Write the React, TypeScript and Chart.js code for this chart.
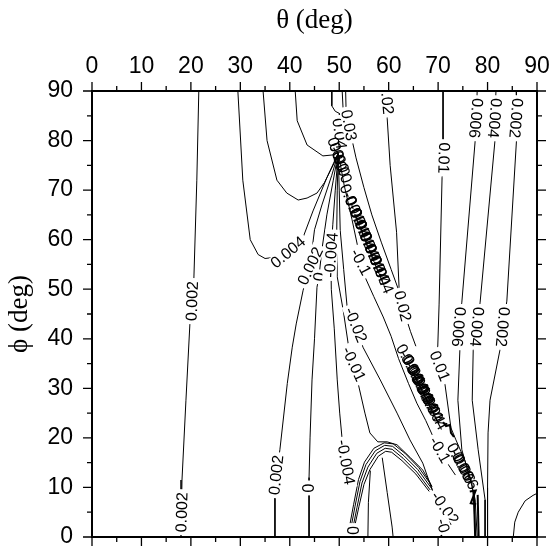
import React, { useEffect, useRef } from "react";
import { Chart, registerables } from "chart.js";

Chart.register(...registerables);

type P = [number, number];
type Lab = [number, number, string, number]; // theta, phi, text, angle (deg)

// axis ticks
const thetaTicks = [0, 10, 20, 30, 40, 50, 60, 70, 80, 90];
const phiTicks = [0, 10, 20, 30, 40, 50, 60, 70, 80, 90];
const minorTicks = [5, 15, 25, 35, 45, 55, 65, 75, 85];

// contour lines [theta, phi]
const lineP0002Left: P[] = [[21.6, 90], [21.2, 72], [20.6, 52], [19.8, 43], [19.0, 27.6], [18.2, 11.5], [18.0, 0]];
const lineP0004: P[] = [[29.5, 90], [30.5, 72], [32.0, 60], [33.6, 57], [35.0, 56.2], [37.5, 56.5], [39.6, 57.5], [42.7, 60.5], [44.7, 65.8], [47.5, 72.5], [49.8, 77.5]];
const lineP0006: P[] = [[34.6, 90], [35.4, 80], [37.4, 72], [39.4, 69.4], [41.7, 68], [43.5, 68.4], [45.5, 69.4], [47.0, 71.5], [49.0, 75.5], [49.8, 77.5]];
const lineP0008: P[] = [[41.1, 90], [41.5, 84], [43.5, 79.1], [46.7, 76.9], [48.7, 77.1], [49.8, 77.5]];
const lineP004: P[] = [[48.5, 90], [48.5, 87], [49.2, 85.9], [50.0, 85.5], [50.1, 81.5], [49.8, 77.5]];
const lineP003: P[] = [[50.6, 90], [50.8, 86], [52.4, 81], [53.4, 76.5], [55.0, 70.5], [56.6, 65], [58.5, 59.5], [60.5, 54], [62.5, 48.5]];
const lineP003b: P[] = [[51.3, 90], [51.4, 85.5]];
const lineP002: P[] = [[59.6, 90], [59.7, 84.5], [60.3, 75], [61.6, 61.5], [62.1, 50.4], [62.9, 46.6], [63.6, 44], [64.4, 41.5], [65.5, 38.5]];
const lineP001: P[] = [[71.0, 90], [71.0, 79.5], [71.2, 76.5], [70.8, 72.6], [70.2, 47], [69.9, 37.5], [70.4, 34.5], [71.4, 30.7], [72.6, 22], [73.6, 19.6], [75.4, 15.5], [76.8, 11], [77.3, 7], [77.5, 0]];
const lineP0006R: P[] = [[77.9, 90], [77.7, 84.5], [77.5, 80], [74.8, 47.4], [74.2, 42.4], [74.4, 37.7], [74.0, 27.6], [74.8, 17.6], [76.9, 10.1], [77.5, 7.5], [77.9, 0]];
const lineP0004R: P[] = [[81.7, 90], [81.5, 84.5], [81.5, 80], [78.5, 47.4], [77.9, 42.4], [77.1, 37.7], [76.9, 27.6], [78.1, 17.6], [79.5, 7.5], [79.5, 0]];
const lineP0002R: P[] = [[85.8, 90], [85.8, 84.5], [85.9, 80], [83.9, 47.6], [83.1, 42.4], [82.5, 37.7], [80.5, 27.6], [80.1, 21], [80.0, 10], [80.0, 0]];
const lineP0002Arc: P[] = [[85.2, 0], [85.5, 3], [86.2, 5], [87.6, 7.3], [89.2, 8.4], [90, 8.8]];
const lineP0002B: P[] = [[49.8, 77.5], [48.5, 73], [46.5, 67], [45.0, 62], [44.1, 54.7], [42.7, 49.8], [41.3, 43], [40.5, 38.3], [39.5, 31], [38.0, 17.6], [37.3, 12.5], [37.0, 8], [37.0, 0]];
const lineZero: P[] = [[49.8, 77.5], [48.8, 72], [47.5, 65], [46.5, 58], [45.9, 52.5], [45.5, 50.4], [45.0, 40], [44.5, 31.7], [44.1, 20], [43.9, 12], [43.9, 0]];
const lineM0004: P[] = [[49.8, 77.5], [49.2, 70], [48.7, 63], [48.3, 56.9], [48.4, 50], [49.0, 42], [49.6, 31.7], [50.1, 25], [50.6, 19.6], [51.4, 15.1], [52.1, 10.5]];
const lineM001: P[] = [[49.8, 77.5], [49.6, 70], [49.5, 62], [49.6, 52.5], [50.8, 45.8], [51.8, 39.1], [53.0, 34.9], [53.8, 31.1], [55.2, 25], [56.2, 21], [57.8, 19.2], [59.7, 19.2], [61.7, 18.6], [64.3, 16.1], [66.9, 13.5], [68.4, 10.9], [69.0, 8.9]];
const lineM002: P[] = [[49.8, 77.5], [50.0, 70], [50.2, 61.9], [50.9, 54], [51.6, 46.4], [53.4, 42.8], [54.8, 38.3], [58.3, 31.7], [61.7, 25], [64.3, 19.6], [66.9, 14.9], [68.8, 9.5]];
const lineM01: P[] = [[49.8, 77.5], [51.0, 71], [52.6, 64], [54.4, 55.5], [55.2, 52.5], [57.0, 48.5], [58.9, 44.4], [60.5, 40.5], [62.0, 36], [64.0, 31], [65.7, 27], [67.5, 23.5], [69.0, 20.2], [70.4, 17.6], [71.8, 15], [73.5, 12.5]];
const arc1: P[] = [[52.8, 2], [53.6, 6], [54.6, 10.9], [55.8, 14.1], [57.6, 16.9], [59.3, 17.9], [60.7, 17.7], [62.9, 15.9], [65.7, 13.1], [68.4, 9.5]];
const arc2: P[] = [[52.4, 2], [53.2, 6.2], [54.2, 11.2], [55.4, 14.6], [57.3, 17.4], [59.2, 18.5], [60.8, 18.3], [63.1, 16.4], [65.9, 13.6], [68.6, 9.9]];
const arc3: P[] = [[52.1, 2.2], [52.9, 6.5], [53.9, 11.6], [55.1, 15.1], [57.0, 17.9], [59.1, 19.0], [60.9, 18.8], [63.3, 16.9], [66.1, 14.0], [68.8, 10.2]];
const arc4: P[] = [[53.2, 2.5], [54.0, 6.2], [55.0, 10.6], [56.2, 13.6], [57.9, 16.3], [59.4, 17.3], [60.6, 17.1], [62.7, 15.4], [65.5, 12.7], [68.2, 9.2]];
const lineInner1: P[] = [[58.7, 16.0], [59.7, 9.0], [60.7, 2.0], [60.9, 0]];
const lineInner2: P[] = [[56.3, 13.4], [55.9, 7], [55.8, 0]];
const ridgeEnd1: P[] = [[77.2, 9.2], [77.5, 0]];
const ridgeEnd2: P[] = [[78.0, 8.5], [78.2, 0]];
const squiggleZ: P[] = [[76.4, 9.2], [77.6, 9.4], [76.6, 6.8], [77.7, 6.6]];
const squiggleY: P[] = [[71.0, 23.2], [71.6, 22.4], [72.4, 22.6], [72.6, 21], [73.2, 20.2]];

const thinLines: P[][] = [
  lineP0002Left, lineP0004, lineP0006, lineP0008, lineP004, lineP003, lineP003b, lineP002,
  lineP001, lineP0006R, lineP0004R, lineP0002R, lineP0002Arc, lineP0002B, lineZero,
  lineM0004, lineM001, lineM002, lineM01, arc1, arc2, arc3, arc4, lineInner1, lineInner2,
];
const thickLines: P[][] = [ridgeEnd1, ridgeEnd2, squiggleZ, squiggleY];

// contour labels (with background gap)
const contourLabels: Lab[] = [
  [20.2, 47.6, "0.002", -88],
  [18.1, 5.0, "0.002", -88],
  [39.6, 57.5, "0.004", -40],
  [44.1, 54.7, "0.002", -65],
  [37.2, 12.5, "0.002", -84],
  [45.9, 52.5, "0", -81],
  [43.9, 9.9, "0", -90],
  [48.3, 56.9, "-0.004", -86],
  [51.4, 15.1, "-0.004", 80],
  [53.4, 42.8, "-0.02", 68],
  [53.0, 34.9, "-0.01", 65],
  [54.4, 55.5, "-0.1", 62],
  [70.4, 17.6, "-0.1", 60],
  [50.1, 81.4, "0.04", 82],
  [52.0, 83.1, "0.03", 80],
  [59.7, 88.4, "0.02", 85],
  [62.9, 46.6, "0.02", 76],
  [71.2, 76.5, "0.01", 92],
  [70.4, 34.5, "0.01", 68],
  [77.7, 84.5, "0.006", 95],
  [74.2, 42.4, "0.006", 95],
  [81.5, 84.5, "0.004", 95],
  [77.9, 42.4, "0.004", 95],
  [85.8, 84.5, "0.002", 95],
  [83.1, 42.4, "0.002", 95],
  [52.6, 1.3, "0", 90],
  [71.4, 5.9, "-0.02", 55],
  [71.4, 1.0, "-0.0", 75],
];

// crowded labels piled along the singular ridge (no gap)
const ridgeLabels: Lab[] = [
  [49.3, 78.5, "0.0", 70], [49.7, 77.4, "0.0", 70], [50.1, 76.2, "-0.0", 68], [50.5, 75.0, "0.0", 68], [50.9, 73.6, "0.0", 68],
  [52.6, 67.4, "0.004", 67], [53.1, 66.2, "-0.04", 67], [53.6, 65.0, "0.004", 67], [54.1, 63.8, "-0.04", 67],
  [54.6, 62.6, "0.004", 67], [55.1, 61.4, "-0.04", 67], [55.6, 60.2, "0.004", 67], [56.1, 59.0, "-0.04", 67],
  [56.6, 57.8, "0.004", 67], [57.1, 56.6, "-0.04", 67], [57.6, 55.4, "0.004", 67], [58.1, 54.2, "-0.04", 67],
  [58.6, 53.0, "0.004", 67],
  [64.3, 35.2, "0.004", 61], [64.8, 34.2, "-0.04", 61], [65.3, 33.2, "0.004", 61], [65.8, 32.2, "-0.04", 61],
  [66.3, 31.2, "0.004", 61], [66.8, 30.2, "-0.04", 61], [67.3, 29.2, "0.004", 61], [67.8, 28.2, "-0.04", 61],
  [68.3, 27.2, "0.004", 61], [68.8, 26.2, "-0.04", 61], [69.2, 25.4, "0.004", 61],
  [74.5, 15.2, "0.006", 62], [75.0, 14.3, "-0.06", 62], [75.5, 13.4, "0.006", 62],
];

const SANS = "'Liberation Sans', Arial, Helvetica, sans-serif";
const SERIF = "'Liberation Serif', 'Times New Roman', serif";

const labelPlugin = {
  id: "contourLabels",
  afterDatasetsDraw(chart: any) {
    const { ctx, chartArea: a, scales } = chart;
    const xs = scales.x, ys = scales.y;
    ctx.save();
    ctx.beginPath();
    ctx.rect(a.left, a.top, a.right - a.left, a.bottom - a.top);
    ctx.clip();
    ctx.font = `16px ${SANS}`;
    ctx.textAlign = "center";
    ctx.textBaseline = "middle";
    const draw = (l: Lab, box: boolean) => {
      const px = xs.getPixelForValue(l[0]);
      const py = ys.getPixelForValue(l[1]);
      ctx.save();
      ctx.translate(px, py);
      ctx.rotate((l[3] * Math.PI) / 180);
      const w = ctx.measureText(l[2]).width;
      if (box) {
        ctx.fillStyle = "#fff";
        ctx.fillRect(-w / 2 - 3, -7, w + 6, 14);
      }
      ctx.fillStyle = "#000";
      ctx.fillText(l[2], 0, 1);
      ctx.restore();
    };
    contourLabels.forEach((l) => draw(l, true));
    ridgeLabels.forEach((l) => draw(l, false));
    ctx.restore();
  },
};

const framePlugin = {
  id: "frameTicks",
  afterDraw(chart: any) {
    const { ctx, chartArea: a, scales } = chart;
    const xs = scales.x, ys = scales.y;
    ctx.save();
    ctx.strokeStyle = "#000";
    ctx.lineWidth = 1.3;
    ctx.beginPath();
    const xt = (v: number, len: number) => {
      const p = xs.getPixelForValue(v);
      ctx.moveTo(p, a.top); ctx.lineTo(p, a.top - len);
      ctx.moveTo(p, a.bottom); ctx.lineTo(p, a.bottom + len);
    };
    const yt = (v: number, len: number) => {
      const p = ys.getPixelForValue(v);
      ctx.moveTo(a.left, p); ctx.lineTo(a.left - len, p);
      ctx.moveTo(a.right, p); ctx.lineTo(a.right + len, p);
    };
    thetaTicks.forEach((v) => xt(v, 9));
    minorTicks.forEach((v) => xt(v, 5));
    phiTicks.forEach((v) => yt(v, 9));
    minorTicks.forEach((v) => yt(v, 5));
    ctx.stroke();
    ctx.lineWidth = 2;
    ctx.strokeRect(a.left, a.top, a.right - a.left, a.bottom - a.top);
    ctx.restore();
  },
};

export default function App() {
  const ref = useRef<HTMLCanvasElement | null>(null);
  useEffect(() => {
    if (!ref.current) return;
    const mk = (pts: P[], w: number) => ({
      data: pts.map(([x, y]) => ({ x, y })),
      showLine: true,
      borderColor: "#000",
      backgroundColor: "#000",
      borderWidth: w,
      pointRadius: 0,
      tension: 0,
      fill: false,
    });
    const datasets = [
      ...thinLines.map((p) => mk(p, 1)),
      ...thickLines.map((p) => mk(p, 2)),
    ];
    const chart = new Chart(ref.current, {
      type: "scatter",
      data: { datasets },
      options: {
        animation: false,
        responsive: false,
        events: [],
        layout: { padding: { left: 0, top: 0, right: 18, bottom: 9 } },
        plugins: { legend: { display: false }, tooltip: { enabled: false } },
        scales: {
          x: {
            type: "linear",
            position: "top",
            min: 0,
            max: 90,
            afterBuildTicks: (s: any) => { s.ticks = thetaTicks.map((v) => ({ value: v })); },
            ticks: { font: { family: SANS, size: 23 }, color: "#000", padding: 11, maxRotation: 0 },
            grid: { display: false, drawTicks: false },
            border: { display: false },
            title: { display: true, text: "θ (deg)", font: { family: SERIF, size: 27 }, color: "#000", padding: { top: 5, bottom: 0 } },
            afterFit: (s: any) => { s.height = 91; s.paddingLeft = 0; s.paddingRight = 0; },
          },
          y: {
            type: "linear",
            position: "left",
            min: 0,
            max: 90,
            afterBuildTicks: (s: any) => { s.ticks = phiTicks.map((v) => ({ value: v })); },
            ticks: { font: { family: SANS, size: 23 }, color: "#000", padding: 19 },
            grid: { display: false, drawTicks: false },
            border: { display: false },
            title: { display: true, text: "ϕ (deg)", font: { family: SERIF, size: 27 }, color: "#000", padding: { top: 4, bottom: 0 } },
            afterFit: (s: any) => { s.width = 92; s.paddingTop = 0; s.paddingBottom = 0; },
          },
        },
      } as any,
      plugins: [labelPlugin, framePlugin],
    });
    return () => chart.destroy();
  }, []);
  return (
    <div style={{ position: "fixed", left: 0, top: 0, width: 555, height: 546, background: "#fff" }}>
      <canvas ref={ref} width={555} height={546} style={{ display: "block" }} />
    </div>
  );
}
